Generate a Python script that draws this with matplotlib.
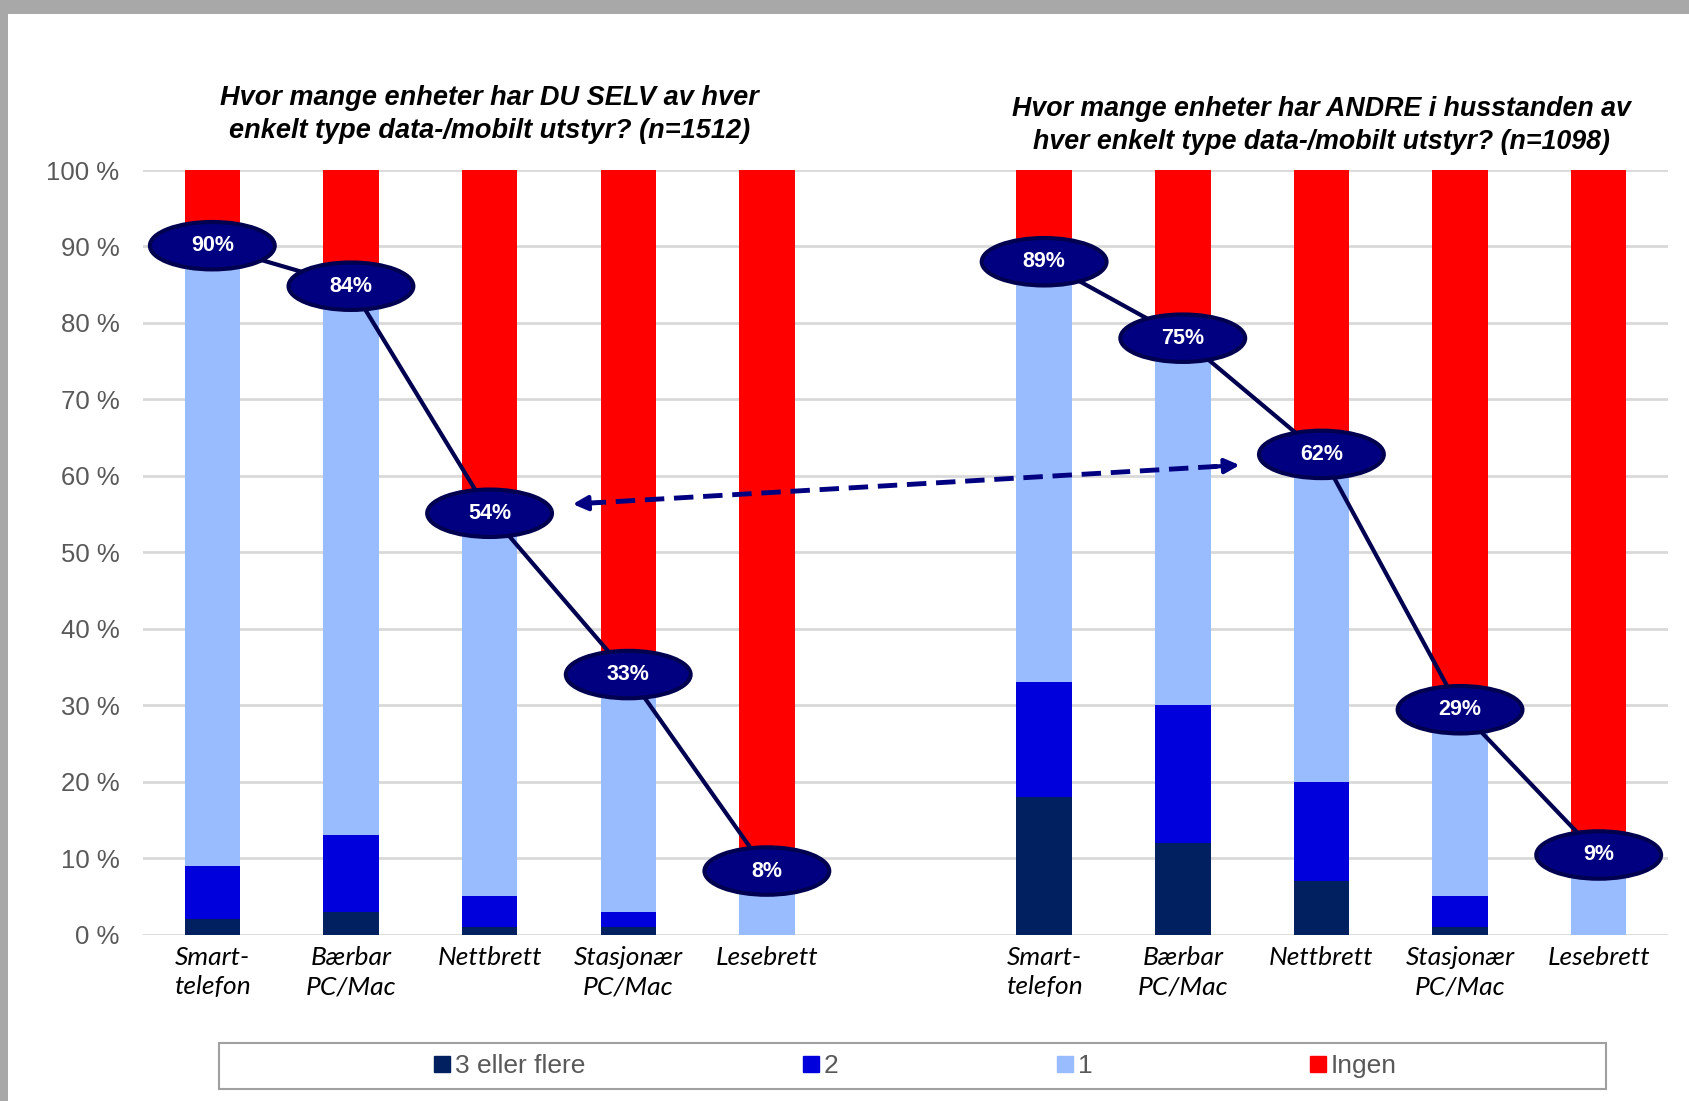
import numpy as np
import matplotlib.pyplot as plt
from matplotlib.patches import Ellipse, Rectangle
from matplotlib.lines import Line2D
import matplotlib.transforms as mtransforms

# data (percent)
devices = ["Smart-\ntelefon", "Bærbar\nPC/Mac", "Nettbrett", "Stasjonær\nPC/Mac", "Lesebrett"]
series = ["3 eller flere", "2", "1", "Ingen"]
colors = ["#002060", "#0000DC", "#99BBFF", "#FF0000"]

selv_3 = [2, 3, 1, 1, 0]
selv_2 = [7, 10, 4, 2, 0]
selv_1 = [81, 71, 49, 30, 8]
selv_ingen = [10, 16, 46, 67, 92]
selv_total = [90, 84, 54, 33, 8]

andre_3 = [18, 12, 7, 1, 0]
andre_2 = [15, 18, 13, 4, 0]
andre_1 = [56, 45, 42, 24, 9]
andre_ingen = [11, 25, 38, 71, 91]
andre_total = [89, 75, 62, 29, 9]

# the callouts were placed by hand, a little off their values
selv_label_dy = [0.1, 0.8, 1.1, 1.0, 0.3]
andre_label_dy = [-1.0, 3.0, 0.8, 0.4, 1.4]

title_selv = "Hvor mange enheter har DU SELV av hver\nenkelt type data-/mobilt utstyr? (n=1512)"
title_andre = "Hvor mange enheter har ANDRE i husstanden av\nhver enkelt type data-/mobilt utstyr? (n=1098)"

fig = plt.figure(figsize=(16.9, 11.01), dpi=100)
fig.patch.set_facecolor("#a8a8a8")
fig.patches.append(Rectangle((8/1690, 0), 1, 1 - 14/1101, transform=fig.transFigure,
                             facecolor="white", edgecolor="none", zorder=-5))

ax = fig.add_axes([143/1690, 166.5/1101, (1668-143)/1690, (931-166.5)/1101])
ax.set_facecolor("none")

x_selv = np.arange(5)
x_andre = np.arange(6, 11)
w = 0.4

for xs, groups in [(x_selv, [selv_3, selv_2, selv_1, selv_ingen]),
                   (x_andre, [andre_3, andre_2, andre_1, andre_ingen])]:
    bottom = np.zeros(5)
    for vals, c in zip(groups, colors):
        ax.bar(xs, vals, w, bottom=bottom, color=c, zorder=2)
        bottom += np.array(vals)

ax.set_xlim(-0.5, 10.5)
ax.set_ylim(0, 100)
ax.set_yticks(range(0, 101, 10))
ax.set_yticklabels([f"{v} %" for v in range(0, 101, 10)], color="#595959",
                   fontsize=18.5, family="Liberation Sans")
ax.set_xticks(list(x_selv) + list(x_andre))
ax.set_xticklabels(devices * 2, fontsize=19, style="italic", family="Lato",
                   linespacing=1.35)
ax.tick_params(length=0, pad=8)
ax.tick_params(axis="y", pad=17)
ax.grid(axis="y", color="#d9d9d9", lw=2, zorder=0)
for s in ax.spines.values():
    s.set_visible(False)

line_c = "#000050"
ell_c = "#000080"
for xs, tot, dy in [(x_selv, selv_total, selv_label_dy), (x_andre, andre_total, andre_label_dy)]:
    ys = np.array(tot) + np.array(dy)
    ax.plot(xs, ys, color=line_c, lw=3, zorder=3)
    for x, y, t in zip(xs, ys, tot):
        ax.add_patch(Ellipse((x, y), 0.9, 6.2, facecolor=ell_c, edgecolor=line_c,
                             lw=3, zorder=4))
        ax.text(x, y, f"{t}%", color="white", fontsize=15.5, fontweight="bold",
                family="Liberation Sans", ha="center", va="center", zorder=5)

# dashed double arrow between the two tablet values
ax0, ay0 = 2.6, 56.3
ax1, ay1 = 7.41, 61.4
slope = (ay1 - ay0) / (ax1 - ax0)
ax.plot([ax0 + 0.1, ax1 - 0.1], [ay0 + 0.1 * slope, ay1 - 0.1 * slope],
        color=ell_c, lw=3.5, ls=(0, (4, 2)), zorder=3)
for (px, py), d in [((ax0, ay0), 1), ((ax1, ay1), -1)]:
    ax.annotate("", xy=(px, py), xytext=(px + d * 0.2, py + d * 0.2 * slope),
                arrowprops=dict(arrowstyle="-|>", color=ell_c, lw=3,
                                mutation_scale=22, shrinkA=0, shrinkB=0), zorder=3)

trans = mtransforms.blended_transform_factory(ax.transData, ax.transAxes)
ax.text(2, 1.072, title_selv, transform=trans, ha="center", va="center",
        fontsize=19.5, fontweight="bold", style="italic", family="Liberation Sans",
        linespacing=1.35)
ax.text(8, 1.058, title_andre, transform=trans, ha="center", va="center",
        fontsize=19.3, fontweight="bold", style="italic", family="Liberation Sans",
        linespacing=1.35)

# legend box
fig.patches.append(Rectangle((219/1690, 12/1101), 1387/1690, 46/1101,
                             transform=fig.transFigure, facecolor="none",
                             edgecolor="#a0a0a0", lw=1.5, zorder=1))
handles = [Line2D([], [], marker="s", ls="none", color=c, markersize=11) for c in colors]
leg = fig.legend(handles, series, loc="center", bbox_to_anchor=(916/1690, 35/1101),
                 ncol=4, frameon=False, handlelength=0.55,
                 handletextpad=0.2, columnspacing=8.3,
                 prop={"family": "Liberation Sans", "size": 19})
for t in leg.get_texts():
    t.set_color("#595959")

fig.savefig("out.png", dpi=100)
